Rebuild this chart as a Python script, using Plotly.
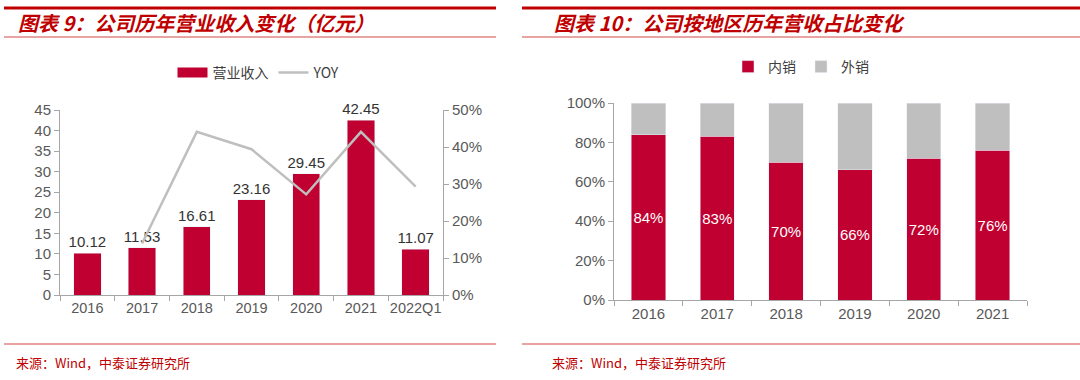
import plotly.graph_objects as go

# ---- data ----
years_left = ["2016", "2017", "2018", "2019", "2020", "2021", "2022Q1"]
revenue = [10.12, 11.53, 16.61, 23.16, 29.45, 42.45, 11.07]
yoy_years = ["2017", "2018", "2019", "2020", "2021", "2022Q1"]
yoy = [0.139, 0.441, 0.394, 0.272, 0.441, 0.293]

years_right = ["2016", "2017", "2018", "2019", "2020", "2021"]
domestic = [84, 83, 70, 66, 72, 76]
overseas = [16, 17, 30, 34, 28, 24]

title_left = "图表 9：公司历年营业收入变化（亿元）"
title_right = "图表 10：公司按地区历年营收占比变化"
source_text = "来源：Wind，中泰证券研究所"

RED = "#C00030"
GRAY = "#BFBFBF"
TITLE_RED = "#C00000"
W, H = 1080, 380
CJK = "Noto Sans CJK SC"
LAT = "Liberation Sans, Arial, sans-serif"
TICK = "#595959"
AXIS = "#A6A6A6"


def px(x):
    return x / W


def py(y):
    return 1 - y / H


fig = go.Figure()

# left chart: bars
fig.add_trace(go.Bar(
    x=years_left, y=revenue, marker_color=RED, width=0.5,
    text=[f"{v:.2f}" for v in revenue], textposition="outside", constraintext="none",
    textfont=dict(family=LAT, size=15, color="#333333"),
    cliponaxis=False, showlegend=False, xaxis="x", yaxis="y",
))
# legend proxy for bars (wide rectangle)
fig.add_trace(go.Scatter(
    x=[None], y=[None], mode="lines", line=dict(color=RED, width=10),
    name="营业收入", legend="legend", xaxis="x", yaxis="y",
))
fig.add_trace(go.Scatter(
    x=yoy_years, y=yoy, mode="lines", line=dict(color=GRAY, width=2.5),
    name="YOY", legend="legend", xaxis="x", yaxis="y2",
))

# right chart: stacked bars
fig.add_trace(go.Bar(
    x=years_right, y=domestic, marker_color=RED, width=0.5, name="内销",
    text=[f"{v}%" for v in domestic], textposition="inside", insidetextanchor="middle",
    textangle=0, constraintext="none",
    textfont=dict(family=LAT, size=15, color="white"),
    legend="legend2", xaxis="x2", yaxis="y3",
))
fig.add_trace(go.Bar(
    x=years_right, y=overseas, marker_color=GRAY, width=0.5, name="外销",
    legend="legend2", xaxis="x2", yaxis="y3",
))

tickfont = dict(family=LAT, size=15, color=TICK)

fig.update_layout(
    width=W, height=H, margin=dict(l=0, r=0, t=0, b=0, autoexpand=False),
    paper_bgcolor="white", plot_bgcolor="white",
    barmode="stack", bargap=0.5,
    xaxis=dict(domain=[px(60), px(443)], type="category", showline=True, linecolor=AXIS,
               ticks="outside", tickson="boundaries", ticklen=5, tickcolor=AXIS, tickangle=0,
               tickfont=dict(family=LAT, size=14.5, color=TICK), showgrid=False, anchor="y",
               automargin=False),
    yaxis=dict(domain=[py(295), py(110)], range=[0, 45], dtick=5, showline=True,
               linecolor=AXIS, ticks="outside", ticklen=5, tickcolor=AXIS,
               tickfont=tickfont, showgrid=False, zeroline=False, anchor="x", automargin=False),
    yaxis2=dict(overlaying="y", side="right", range=[0, 0.5], dtick=0.1, tickformat=".0%",
                showline=True, linecolor=AXIS, ticks="outside", ticklen=5, tickcolor=AXIS,
                tickfont=tickfont, showgrid=False, zeroline=False, anchor="x", automargin=False),
    xaxis2=dict(domain=[px(614), px(1027)], type="category", showline=True, linecolor=AXIS,
                ticks="outside", tickson="boundaries", ticklen=5, tickcolor=AXIS, tickangle=0,
                tickfont=tickfont, showgrid=False, anchor="y3", automargin=False),
    yaxis3=dict(domain=[py(300), py(103)], range=[0, 100], dtick=20, ticksuffix="%",
                showline=True, linecolor=AXIS, ticks="outside", ticklen=5, tickcolor=AXIS,
                tickfont=tickfont, showgrid=False, zeroline=False, anchor="x2", automargin=False),
    legend=dict(orientation="h", x=px(259), y=py(73), xanchor="center", yanchor="middle",
                traceorder="normal",
                font=dict(family=CJK, size=14, color="#404040"), bgcolor="rgba(0,0,0,0)"),
    legend2=dict(orientation="h", x=px(801), y=py(67), xanchor="center", yanchor="middle",
                 traceorder="normal",
                 font=dict(family=CJK, size=14, color="#404040"), bgcolor="rgba(0,0,0,0)"),
)

shapes = []
for x0, x1 in [(4, 496), (522, 1080)]:
    shapes.append(dict(type="line", xref="paper", yref="paper", x0=px(x0), x1=px(x1),
                       y0=py(8), y1=py(8), line=dict(color=TITLE_RED, width=3)))
    shapes.append(dict(type="line", xref="paper", yref="paper", x0=px(x0), x1=px(x1),
                       y0=py(37), y1=py(37), line=dict(color="#E08585", width=1.5)))
    shapes.append(dict(type="line", xref="paper", yref="paper", x0=px(x0), x1=px(x1),
                       y0=py(344), y1=py(344), line=dict(color="#E08585", width=1.5)))
fig.update_layout(shapes=shapes)

annos = [
    dict(text=f"<b><i>{title_left}</i></b>", x=px(16), y=py(23), xanchor="left", yanchor="middle",
         font=dict(family=CJK, size=20, color=TITLE_RED)),
    dict(text=f"<b><i>{title_right}</i></b>", x=px(552), y=py(23), xanchor="left", yanchor="middle",
         font=dict(family=CJK, size=20, color=TITLE_RED)),
    dict(text=source_text, x=px(14), y=py(362), xanchor="left", yanchor="middle",
         font=dict(family=CJK, size=13, color=TITLE_RED)),
    dict(text=source_text, x=px(550), y=py(362), xanchor="left", yanchor="middle",
         font=dict(family=CJK, size=13, color=TITLE_RED)),
]
for a in annos:
    a.update(xref="paper", yref="paper", showarrow=False)
fig.update_layout(annotations=annos)

fig.write_html("out.html", config={"displayModeBar": False},
               post_script="document.body.style.margin='0';document.body.style.overflow='hidden';")
